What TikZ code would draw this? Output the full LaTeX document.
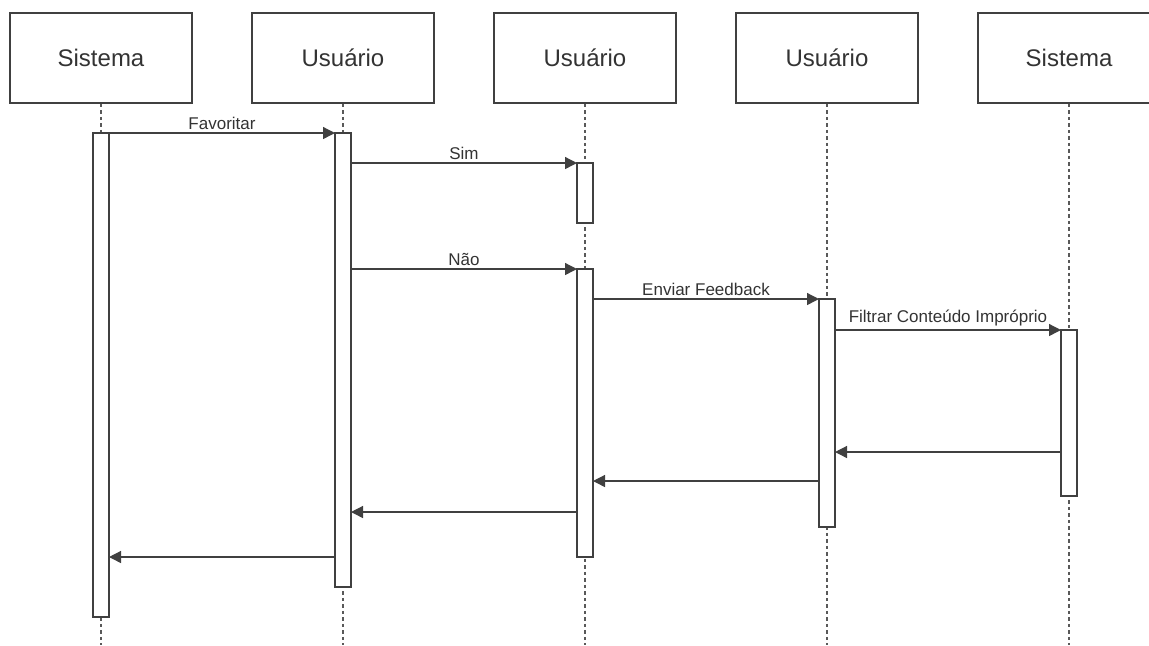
\documentclass[tikz,border=0pt]{standalone}
\usepackage{fontspec}
\setmainfont{Liberation Sans}
\usetikzlibrary{arrows.meta}

\begin{document}
\begin{tikzpicture}[x = .5pt, y = -.5pt,
        actor/.style = {rectangle, draw = black!75, line width = .75pt, minimum width = 91pt, minimum height = 45pt, font = \fontsize{12}{14}\selectfont, text = black!80},
        bar/.style = {rectangle, fill = white, draw = black!75, line width = .75pt, minimum width = 8pt, inner sep = 0pt, outer sep = 0pt, anchor = north},
        lifeline/.style = {dash pattern = on 1.75pt off 1.5pt, black!65, line width = .6pt},
        msg/.style = {-{Triangle[length = 6pt, width = 6pt]}, line width = .65pt, black!75},
        lbl/.style = {above, inner sep = 1.5pt, font = \fontsize{8.5}{10}\selectfont, text = black!80}]
            \useasboundingbox (0, 0) rectangle (1149, 645);

            \node[actor] at (101, 58) (actor1) {Sistema};
            \foreach \name [count = \i from 2] in {Usuário, Usuário, Usuário, Sistema}
                {
                    \pgfmathsetmacro\dist{(\i - 1) * 121};
                    \node[actor] at ([xshift = \dist pt]actor1) (actor\i) {\name};
                }
            \foreach \i in {1, ..., 5}
                \draw[lifeline] (actor\i.south) -- (actor\i.south |- 0, 645);

            % activation bars
            \foreach \nm/\who/\top/\bot in {bar1/1/133/617, bar2/2/133/587, bar3a/3/163/223, bar3b/3/269/557, bar4/4/299/527, bar5/5/330/496}
                {
                    \pgfmathsetmacro\len{(\bot - \top) / 2};
                    \node[bar, minimum height = \len pt] at (actor\who |- 0, \top) (\nm) {};
                }

            \draw[msg] (bar1.north east) -- node[lbl] {Favoritar} (bar2.north west);
            \draw[msg] (bar2.east |- bar3a.north) -- node[lbl] {Sim} (bar3a.north west);
            \draw[msg] (bar2.east |- bar3b.north) -- node[lbl] {Não} (bar3b.north west);
            \draw[msg] (bar3b.east |- bar4.north) -- node[lbl] {Enviar Feedback} (bar4.north west);
            \draw[msg] (bar4.east |- bar5.north) -- node[lbl] {Filtrar Conteúdo Impróprio} (bar5.north west);

            % replies
            \coordinate (ret1) at (0, 452);
            \coordinate (ret2) at (0, 481);
            \coordinate (ret3) at (0, 512);
            \coordinate (ret4) at (0, 557);
            \draw[msg] (bar5.west |- ret1) -- (bar4.east |- ret1);
            \draw[msg] (bar4.west |- ret2) -- (bar3b.east |- ret2);
            \draw[msg] (bar3b.west |- ret3) -- (bar2.east |- ret3);
            \draw[msg] (bar2.west |- ret4) -- (bar1.east |- ret4);
        \end{tikzpicture}
\end{document}
